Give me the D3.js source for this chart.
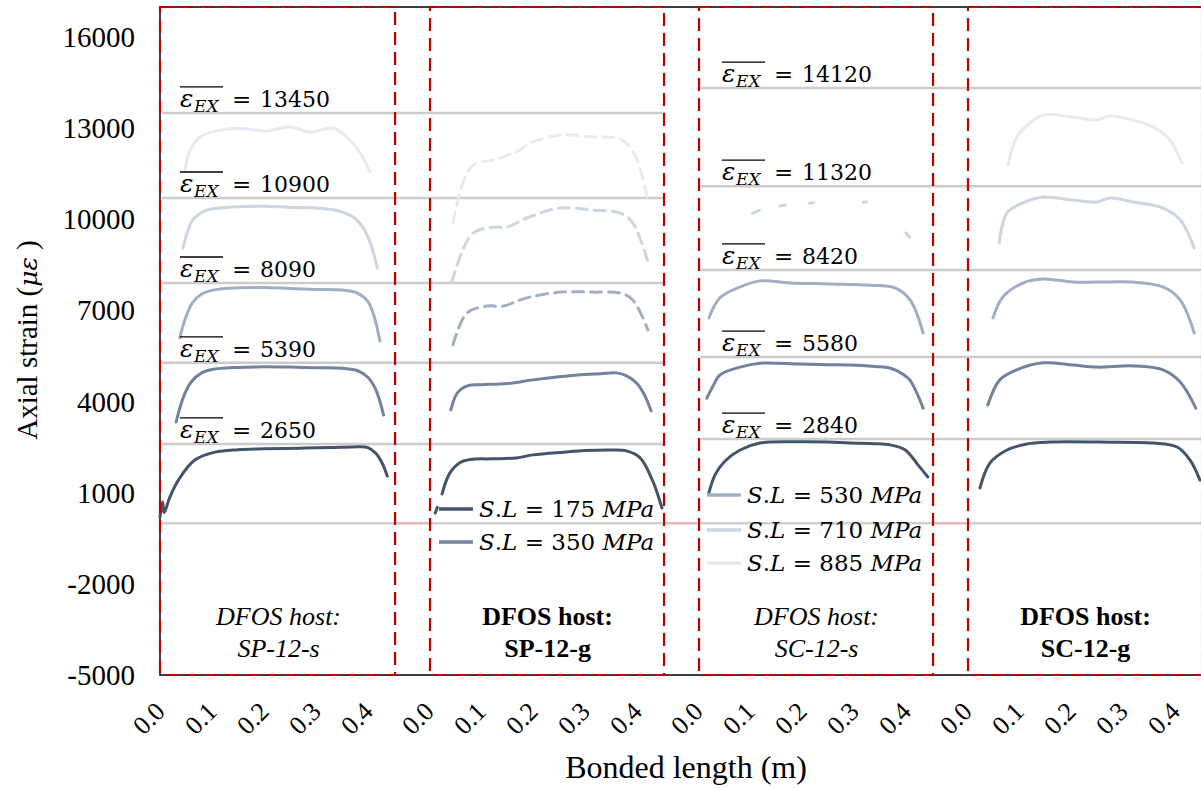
<!DOCTYPE html>
<html>
<head>
<meta charset="utf-8">
<script src="https://cdn.jsdelivr.net/npm/d3@7/dist/d3.min.js"></script>
<style>
  body { margin: 0; background: #fff; }
  svg { display: block; }
</style>
</head>
<body>
<svg width="1201" height="788"></svg>
<script>
// panels (DFOS hosts) and loading levels
const panels = ["SP-12-s", "SP-12-g", "SC-12-s", "SC-12-g"];
const panelBold = [false, true, false, true];
const stressLevels = [175, 350, 530, 710, 885];
const levelColors = ["#44546a", "#71839e", "#a1afc4", "#cdd5e1", "#e6eaf0"];

const xTicks = [0, 0.1, 0.2, 0.3, 0.4];
const yTicks = [-5000, -2000, 1000, 4000, 7000, 10000, 13000, 16000];

// average extensometer strain, labels and the grey lines as drawn
const exLabelsSP = [2650, 5390, 8090, 10900, 13450];
const exLabelsSC = [2840, 5580, 8420, 11320, 14120];
const exLinesSP = [2610, 5280, 7910, 10710, 13510];
const exLinesSC = [2770, 5470, 8340, 11100, 14330];

// strain profiles [bonded length (m), strain], null = missing readings
const sp12s = [
  [[0,200],[0.005,700],[0.008,350],[0.019,860],[0.038,1490],[0.067,2080],[0.106,2340],[0.15,2420],[0.2,2450],[0.27,2470],[0.33,2490],[0.37,2510],[0.40,2490],[0.415,2300],[0.428,1950],[0.437,1550]],
  [[0.031,3330],[0.045,4150],[0.06,4650],[0.08,4950],[0.1,5060],[0.15,5130],[0.2,5150],[0.25,5140],[0.3,5120],[0.35,5100],[0.38,5020],[0.40,4800],[0.415,4400],[0.43,3560]],
  [[0.038,6100],[0.048,6700],[0.062,7250],[0.08,7550],[0.11,7700],[0.15,7750],[0.2,7760],[0.25,7730],[0.3,7700],[0.35,7680],[0.38,7580],[0.40,7300],[0.412,6800],[0.423,6000]],
  [[0.044,9060],[0.053,9600],[0.063,9990],[0.09,10310],[0.14,10410],[0.2,10440],[0.25,10400],[0.3,10380],[0.34,10300],[0.37,10100],[0.39,9750],[0.405,9200],[0.418,8400]],
  [[0.048,11630],[0.058,12290],[0.077,12720],[0.11,12920],[0.148,13010],[0.206,12920],[0.25,13050],[0.288,12880],[0.333,13010],[0.365,12620],[0.385,12190],[0.404,11570]]
];
const sp12g = [
  [[0.012,335],[0.016,520],null,[0.025,960],[0.04,1650],[0.06,2000],[0.08,2100],[0.12,2120],[0.168,2150],[0.2,2250],[0.26,2340],[0.3,2390],[0.35,2410],[0.38,2380],[0.406,2150],[0.43,1400],[0.448,500]],
  [[0.042,3730],[0.055,4300],[0.075,4530],[0.1,4560],[0.15,4600],[0.2,4720],[0.25,4820],[0.3,4900],[0.33,4920],[0.36,4950],[0.38,4850],[0.40,4600],[0.415,4200],[0.427,3700]],
  [[0.046,5870],[0.073,6920],[0.112,7150],[0.142,7150],[0.188,7420],[0.252,7610],[0.315,7610],[0.367,7580],[0.392,7350],[0.421,6360]],
  [[0.044,7940],[0.065,9000],[0.085,9560],[0.123,9750],[0.15,9750],[0.188,10050],[0.252,10380],[0.315,10310],[0.367,10220],[0.392,9890],[0.421,8600]],
  [[0.046,9890],[0.065,11200],[0.085,11800],[0.13,11990],[0.175,12290],[0.194,12520],[0.252,12780],[0.315,12720],[0.367,12650],[0.396,12130],[0.421,10580]]
];
const sc12s = [
  [[0.021,1000],[0.033,1600],[0.052,2050],[0.081,2410],[0.119,2640],[0.196,2680],[0.25,2670],[0.292,2640],[0.34,2620],[0.369,2580],[0.398,2420],[0.423,1920],[0.442,1520]],
  [[0.017,4120],[0.03,4550],[0.042,4880],[0.081,5140],[0.119,5270],[0.196,5240],[0.25,5220],[0.292,5210],[0.34,5160],[0.369,5110],[0.395,4900],[0.408,4700],[0.433,3790]],
  [[0.021,6760],[0.042,7420],[0.081,7780],[0.119,7980],[0.177,7910],[0.254,7880],[0.331,7840],[0.379,7750],[0.408,7350],[0.433,6260]],
  [[0.105,10200],[0.118,10300],null,[0.158,10450],[0.168,10480],null,[0.214,10540],[0.222,10550],null,[0.318,10570],[0.324,10580],null,[0.400,9560],[0.407,9420]],
  []
];
const sc12g = [
  [[0.025,1160],[0.044,1980],[0.077,2410],[0.115,2610],[0.16,2670],[0.256,2670],[0.358,2640],[0.404,2510],[0.429,2080],[0.448,1420]],
  [[0.04,3890],[0.063,4720],[0.096,5050],[0.146,5280],[0.204,5210],[0.25,5140],[0.319,5180],[0.377,5050],[0.41,4650],[0.44,3790]],
  [[0.05,6760],[0.069,7450],[0.108,7910],[0.146,8040],[0.204,7940],[0.25,7940],[0.319,7940],[0.377,7780],[0.41,7350],[0.437,6260]],
  [[0.062,9230],[0.077,10220],[0.108,10550],[0.146,10740],[0.204,10640],[0.25,10580],[0.275,10710],[0.319,10580],[0.377,10380],[0.41,9990],[0.437,9060]],
  [[0.079,11800],[0.096,12720],[0.121,13180],[0.146,13440],[0.204,13380],[0.25,13280],[0.275,13410],[0.319,13280],[0.358,13050],[0.39,12620],[0.413,11860]]
];
const profiles = [sp12s, sp12g, sc12s, sc12g];
// series logged with many dropouts show up dashed
const dashedSeries = [[1, 2], [1, 3], [1, 4]];

const svg = d3.select("svg");
const serif = "'Liberation Serif', 'Times New Roman', serif";
const mathFont = "'DejaVu Serif', serif";

const plotTop = 7, plotBottom = 675, plotLeft = 160, step = 269;
const y = d3.scaleLinear().domain([-5000, 17000]).range([plotBottom, plotTop]);
const band = d3.scaleBand().domain(panels).range([plotLeft, plotLeft + step * panels.length]);
const xIn = d3.scaleLinear().domain([0, 0.5173]).range([0, step]);
const X = (p, m) => band(p) + xIn(m);

// plot area border
svg.append("rect")
  .attr("x", plotLeft).attr("y", plotTop)
  .attr("width", 1201 - plotLeft + 10).attr("height", plotBottom - plotTop)
  .attr("fill", "none").attr("stroke", "#000").attr("stroke-width", 1.5);

// zero line
svg.append("line")
  .attr("x1", plotLeft).attr("x2", 1201)
  .attr("y1", y(0)).attr("y2", y(0))
  .attr("stroke", "#d0d0d0").attr("stroke-width", 2.5);

// grey lines at extensometer strain
function exLines(levels, x1, x2) {
  svg.append("g").selectAll("line")
    .data(levels)
    .enter().append("line")
    .attr("x1", x1).attr("x2", x2)
    .attr("y1", d => y(d)).attr("y2", d => y(d))
    .attr("stroke", "#cccccc").attr("stroke-width", 2.5);
}
exLines(exLinesSP, band(panels[0]) + 2, X(panels[1], 0.454));
exLines(exLinesSC, X(panels[2], 0.005), 1201);

// strain profiles
const line = d3.line()
  .defined(d => d !== null)
  .x(d => d.x).y(d => y(d.v))
  .curve(d3.curveCatmullRom.alpha(0.5));

panels.forEach(function(p, pi) {
  let g = svg.append("g");
  profiles[pi].forEach(function(series, li) {
    if (!series.length) return;
    let pts = series.map(d => d === null ? null : { x: X(p, d[0]), v: d[1] });
    let dashed = dashedSeries.some(s => s[0] === pi && s[1] === li);
    g.append("path")
      .attr("d", line(pts))
      .attr("fill", "none")
      .attr("stroke", levelColors[li])
      .attr("stroke-width", 3)
      .attr("stroke-linecap", "round")
      .attr("stroke-dasharray", dashed ? "11,7" : null);
  });
});

// epsilon_EX labels
function exLabel(levels, lineLevels, x0) {
  levels.forEach(function(v, i) {
    let by = y(lineLevels[i]) - 6;
    let g = svg.append("g").attr("transform", `translate(${x0},${by})`);
    g.append("text").attr("x", 0).attr("y", 0)
      .style("font-family", mathFont).style("font-style", "italic").style("font-size", "25px")
      .text("ε");
    g.append("text").attr("x", 14).attr("y", 5)
      .style("font-family", mathFont).style("font-style", "italic").style("font-size", "17px")
      .text("EX");
    g.append("line").attr("x1", 0).attr("x2", 43).attr("y1", -20).attr("y2", -20)
      .attr("stroke", "#000").attr("stroke-width", 1.3);
    g.append("text").attr("x", 52).attr("y", 0)
      .style("font-family", mathFont).style("font-size", "23px")
      .text("=");
    g.append("text").attr("x", 80).attr("y", 0)
      .style("font-family", mathFont).style("font-size", "22px")
      .text(v);
  });
}
exLabel(exLabelsSP, exLinesSP, band(panels[0]) + 20);
exLabel(exLabelsSC, exLinesSC, band(panels[2]) + 24);

// red dashed panel frames
panels.forEach(function(p, i) {
  svg.append("rect")
    .attr("x", band(p) + (i === 0 ? 0 : 1)).attr("y", plotTop)
    .attr("width", xIn(0.452) - (i === 0 ? 0 : 1)).attr("height", plotBottom - plotTop)
    .attr("fill", "none")
    .attr("stroke", "#c00000").attr("stroke-width", 2.2)
    .attr("stroke-dasharray", "13,7");
});
// pink zero segments between frames
for (let i = 0; i < panels.length - 1; i++) {
  svg.append("line")
    .attr("x1", X(panels[i], 0.452) + 2).attr("x2", band(panels[i + 1]) - 1)
    .attr("y1", y(0)).attr("y2", y(0))
    .attr("stroke", "#efb4b4").attr("stroke-width", 2);
}

// panel names
panels.forEach(function(p, i) {
  let cx = X(p, 0.228);
  let t = svg.append("text")
    .attr("text-anchor", "middle")
    .style("font-family", serif).style("font-size", "26px")
    .style("font-style", panelBold[i] ? "normal" : "italic")
    .style("font-weight", panelBold[i] ? "bold" : "normal");
  t.append("tspan").attr("x", cx).attr("y", 625).text("DFOS host:");
  t.append("tspan").attr("x", cx).attr("y", 657).text(p);
});

// y axis
const yAxis = svg.append("g")
  .attr("transform", `translate(${plotLeft},0)`)
  .call(d3.axisLeft(y).tickValues(yTicks).tickSize(0).tickPadding(25).tickFormat(d => String(d)));
yAxis.select(".domain").remove();
yAxis.selectAll("text")
  .style("font-family", serif).style("font-size", "29px").attr("fill", "#000");

// x axis, one per panel
panels.forEach(function(p) {
  let ax = svg.append("g")
    .attr("transform", `translate(${band(p)},${plotBottom})`)
    .call(d3.axisBottom(xIn).tickValues(xTicks).tickSize(0).tickFormat(d3.format(".1f")));
  ax.select(".domain").remove();
  ax.selectAll("text")
    .attr("x", 0).attr("y", 0).attr("dy", 0)
    .attr("text-anchor", "end")
    .attr("transform", "translate(6,38) rotate(-45)")
    .style("font-family", serif).style("font-size", "26px").attr("fill", "#000");
});

// axis titles
const yTitle = svg.append("text")
  .attr("transform", "translate(37,340) rotate(-90)")
  .attr("text-anchor", "middle")
  .style("font-family", serif).style("font-size", "29px");
yTitle.append("tspan").text("Axial strain (");
yTitle.append("tspan").style("font-family", mathFont).style("font-style", "italic").style("font-size", "25px").text("με");
yTitle.append("tspan").text(" )");

svg.append("text")
  .attr("x", 686).attr("y", 778)
  .attr("text-anchor", "middle")
  .style("font-family", serif).style("font-size", "32px")
  .text("Bonded length (m)");

// legend in two columns
const legendPos = [
  [band(panels[1]) + 10, 509], [band(panels[1]) + 10, 542],
  [band(panels[2]) + 9, 495], [band(panels[2]) + 9, 530], [band(panels[2]) + 9, 563]
];
stressLevels.forEach(function(s, i) {
  let [lx, ly] = legendPos[i];
  let g = svg.append("g").attr("transform", `translate(${lx},${ly})`);
  g.append("line").attr("x1", 0).attr("x2", 34).attr("y1", 0).attr("y2", 0)
    .attr("stroke", levelColors[i]).attr("stroke-width", 3.5);
  let t = g.append("text").attr("x", 40).attr("y", 8)
    .style("font-family", mathFont).style("font-size", "23px");
  t.append("tspan").style("font-style", "italic").text("S");
  t.append("tspan").text(".");
  t.append("tspan").style("font-style", "italic").text("L");
  t.append("tspan").text(" = " + s + " ");
  t.append("tspan").style("font-style", "italic").text("MPa");
});
</script>
</body>
</html>
